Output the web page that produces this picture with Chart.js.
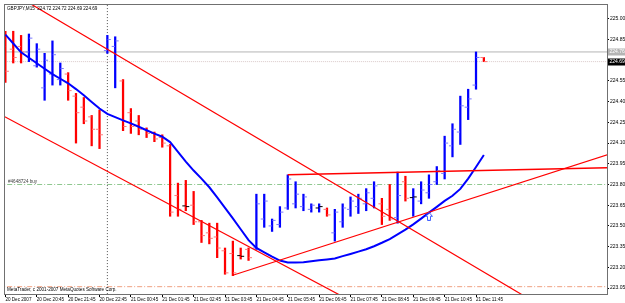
<!DOCTYPE html>
<html>
<head>
<meta charset="utf-8">
<script src="https://cdn.jsdelivr.net/npm/chart.js@4.4.1/dist/chart.umd.min.js"></script>
<style>
  html, body { margin: 0; padding: 0; background: #fff; }
</style>
</head>
<body>
<canvas id="chart" width="625" height="303"></canvas>
<script>
// GBPJPY M15, one entry per bar (bar 0 is the half-hidden one on the left edge)
const opens  = [224.80,224.78,224.80,224.76,224.66,224.50,224.60,224.56,224.60,224.44,
                224.36,224.29,224.20,224.77,224.80,224.55,224.32,224.26,224.20,224.17,
                224.14,224.08,223.72,223.645,223.65,223.53,223.45,223.42,223.32,223.30,
                223.285,223.33,223.34,223.55,223.50,223.51,223.63,223.66,223.64,223.62,
                223.63,223.62,223.45,223.53,223.62,223.64,223.66,223.70,223.66,223.62,
                223.56,223.82,223.705,223.68,223.74,223.82,223.88,224.08,224.18,224.36,
                224.52,224.72]
const highs  = [224.91,224.91,224.88,224.89,224.82,224.75,224.84,224.68,224.61,224.46,
                224.43,224.30,224.34,224.88,224.87,224.56,224.35,224.30,224.21,224.18,
                224.16,224.09,223.81,223.83,223.75,223.54,223.52,223.52,223.34,223.39,
                223.34,223.34,223.73,223.73,223.55,223.64,223.87,223.82,223.73,223.66,
                223.66,223.63,223.62,223.66,223.71,223.73,223.77,223.82,223.70,223.80,
                223.89,223.86,223.77,223.82,223.87,223.93,224.15,224.24,224.44,224.49,
                224.76,224.72]
const lows   = [224.54,224.68,224.68,224.69,224.65,224.41,224.52,224.52,224.41,224.10,
                224.24,224.08,224.06,224.75,224.50,224.19,224.17,224.16,224.14,224.11,
                224.07,223.57,223.57,223.61,223.51,223.38,223.37,223.27,223.15,223.14,
                223.26,223.25,223.33,223.49,223.46,223.49,223.62,223.63,223.61,223.60,
                223.60,223.57,223.39,223.49,223.57,223.59,223.61,223.63,223.51,223.54,
                223.52,223.68,223.57,223.66,223.70,223.80,223.84,224.00,224.09,224.27,
                224.49,224.69]
const closes = [224.62,224.72,224.76,224.86,224.78,224.70,224.74,224.64,224.48,224.32,
                224.26,224.20,224.16,224.85,224.84,224.22,224.22,224.20,224.17,224.13,
                224.10,223.60,223.62,223.64,223.53,223.43,223.41,223.34,223.16,223.16,
                223.28,223.27,223.66,223.68,223.54,223.60,223.84,223.73,223.71,223.65,
                223.64,223.58,223.60,223.63,223.68,223.70,223.74,223.79,223.57,223.55,
                223.72,223.70,223.71,223.76,223.80,223.90,224.10,224.20,224.37,224.42,
                224.72,224.69]
// moving average (blue curve)
const maValues = [224.886,224.821,224.757,224.718,224.678,224.638,224.600,224.566,224.533,224.491,
                  224.446,224.398,224.350,224.312,224.288,224.264,224.243,224.218,224.193,224.168,
                  224.146,224.107,224.036,223.966,223.901,223.843,223.780,223.707,223.631,223.555,
                  223.476,223.397,223.341,223.309,223.278,223.249,223.236,223.236,223.237,223.244,
                  223.251,223.257,223.264,223.281,223.297,223.314,223.331,223.353,223.378,223.405,
                  223.439,223.473,223.511,223.553,223.596,223.638,223.681,223.718,223.768,223.843,
                  223.927,224.014]

// time axis
const timeTickBars   = [0,4,8,12,16,20,24,28,32,36,40,44,48,52,56,60]
const timeTickLabels = ["20 Dec 2007","20 Dec 20:45","20 Dec 21:45","20 Dec 22:45",
                        "21 Dec 00:45","21 Dec 01:45","21 Dec 02:45","21 Dec 03:45",
                        "21 Dec 04:45","21 Dec 05:45","21 Dec 06:45","21 Dec 07:45",
                        "21 Dec 08:45","21 Dec 09:45","21 Dec 10:45","21 Dec 11:45"]
const daySeparatorBar = 13

// price axis
const priceTicks = [225.00,224.85,224.70,224.55,224.40,224.25,224.10,223.95,
                    223.80,223.65,223.50,223.35,223.20,223.05].filter(v => v !== 224.70)
const askPrice = 224.76
const bidPrice = 224.69
const orderPrice = 223.80
const stopPrice = 223.06
const orderLabel = "#4648724 buy"
const arrowBar = [54]
const arrowPrice = [223.57]

// trend lines, [bar, price] end points
const upperChannel = [[-1, 225.25], [78, 222.594]]
const lowerChannel = [[-1, 224.319], [78, 221.930]]
const risingLine   = [[29, 223.143], [78, 224.038]]
const flatLine     = [[36, 223.871], [78, 223.923]]

const titleText = "GBPJPY,M15  224.72 224.72 224.69 224.69"
const copyText  = "MetaTrader, c 2001-2007 MetaQuotes Software Corp."

const xMin = -0.05, xMax = 76.7
const yMin = 223.007, yMax = 225.10
const tickShift = 0.24
const font = "Liberation Sans"

const bars = opens.map((o, j) => j)
const barColors = bars.map(j => closes[j] > opens[j] ? "#0000ff" : "#ff0000")
const tickColors = bars.map(j => Math.abs(closes[j] - opens[j]) < 0.01 ? "#000000"
  : (closes[j] > opens[j] ? "#7878ff" : "#ff7878"))

const pts = arr => arr.map(p => ({ x: p[0], y: p[1] }))
const hline = price => [{ x: xMin - 1, y: price }, { x: xMax + 1, y: price }]

function buyArrow() {
  const c = document.createElement("canvas")
  c.width = 8; c.height = 9
  const g = c.getContext("2d")
  g.strokeStyle = "#4060ff"
  g.lineWidth = 1
  g.beginPath()
  g.moveTo(4, 0.5); g.lineTo(7.5, 4.5); g.lineTo(5.5, 4.5); g.lineTo(5.5, 8.5)
  g.lineTo(2.5, 8.5); g.lineTo(2.5, 4.5); g.lineTo(0.5, 4.5); g.closePath()
  g.stroke()
  return c
}

const lineSet = (data, color, width, dash, order) => ({
  type: "line", data, borderColor: color, borderWidth: width, borderDash: dash || [],
  pointRadius: 0, fill: false, order, clip: 0
})

const textPlugin = {
  id: "mtTexts",
  afterDraw(chart) {
    const { ctx, chartArea: a, scales: { y } } = chart
    ctx.save()
    // frame
    ctx.strokeStyle = "#707070"
    ctx.lineWidth = 1
    ctx.strokeRect(a.left - 0.5, a.top - 0.5, a.right - a.left + 1, a.bottom - a.top + 1)
    ctx.textBaseline = "middle"
    ctx.textAlign = "left"
    ctx.font = "4.6px '" + font + "'"
    ctx.fillStyle = "#000"
    ctx.fillText(titleText, a.left + 2, a.top + 4)
    ctx.fillText(copyText, a.left + 2, a.bottom - 4)
    ctx.fillStyle = "#404040"
    ctx.fillText(orderLabel, a.left + 3, y.getPixelForValue(orderPrice) - 3)
    // ask / bid boxes on the price axis
    ctx.font = "5px '" + font + "'"
    const boxes = [[askPrice, "#b4b4b4", "#ffffff"], [bidPrice, "#000000", "#ffffff"]]
    boxes.forEach(([p, bg, fg]) => {
      const py = Math.round(y.getPixelForValue(p))
      ctx.fillStyle = bg
      ctx.fillRect(a.right + 1, py - 3.5, 17, 7)
      ctx.fillStyle = fg
      ctx.fillText(p.toFixed(2), a.right + 2.5, py)
    })
    ctx.restore()
  }
}

new Chart(document.getElementById("chart"), {
  type: "bar",
  data: {
    datasets: [
      lineSet(hline(askPrice), "#b4b4b4", 1, [], 20),
      lineSet(hline(bidPrice), "#d8c8c8", 1, [1, 1], 20),
      lineSet(hline(orderPrice), "#90c890", 1, [5, 2, 1, 2], 20),
      lineSet(hline(stopPrice), "#f0a080", 1, [5, 2, 1, 2], 20),
      lineSet([{ x: daySeparatorBar, y: yMin - 1 }, { x: daySeparatorBar, y: yMax + 1 }],
        "#505050", 1, [1, 2], 20),
      {
        type: "bar",
        data: bars.map(j => ({ x: j, y: [lows[j], highs[j]] })),
        backgroundColor: barColors,
        barThickness: 1.6,
        order: 10
      },
      {
        type: "line", showLine: false, order: 9,
        data: bars.map(j => ({ x: j - tickShift, y: opens[j] })),
        pointStyle: "line", pointRadius: 1.6, pointBorderWidth: 1,
        pointBorderColor: tickColors, pointBackgroundColor: tickColors
      },
      {
        type: "line", showLine: false, order: 9,
        data: bars.map(j => ({ x: j + tickShift, y: closes[j] })),
        pointStyle: "line", pointRadius: 1.6, pointBorderWidth: 1,
        pointBorderColor: tickColors, pointBackgroundColor: tickColors
      },
      lineSet(bars.map(j => ({ x: j, y: maValues[j] })), "#0000ff", 2, [], 3),
      lineSet(pts(upperChannel), "#ff0000", 1.2, [], 2),
      lineSet(pts(lowerChannel), "#ff0000", 1.2, [], 2),
      lineSet(pts(risingLine), "#ff0000", 1.2, [], 2),
      lineSet(pts(flatLine), "#ff0000", 1.4, [], 2),
      {
        type: "line", showLine: false, order: 1,
        data: arrowBar.map((b, i) => ({ x: b, y: arrowPrice[i] })),
        pointStyle: buyArrow(), pointRadius: 4
      }
    ]
  },
  options: {
    responsive: false,
    devicePixelRatio: 1,
    animation: false,
    layout: { padding: { left: 1, top: 1, right: 0, bottom: 0 } },
    plugins: { legend: { display: false }, tooltip: { enabled: false } },
    scales: {
      x: {
        type: "linear", min: xMin, max: xMax, offset: false,
        afterBuildTicks(s) { s.ticks = timeTickBars.map(v => ({ value: v })) },
        afterFit(s) { s.height = 9 },
        ticks: {
          autoSkip: false, maxRotation: 0, align: "start", padding: 0,
          color: "#000", font: { family: font, size: 4.6 },
          callback: (v, i) => timeTickLabels[i]
        },
        grid: { drawOnChartArea: false, tickLength: 3, color: "#000", offset: false },
        border: { display: false }
      },
      y: {
        type: "linear", position: "right", min: yMin, max: yMax,
        afterBuildTicks(s) { s.ticks = priceTicks.map(v => ({ value: v })) },
        afterFit(s) { s.width = 18 },
        ticks: {
          autoSkip: false, padding: 1, color: "#000",
          font: { family: font, size: 5 },
          callback: v => v.toFixed(2)
        },
        grid: { drawOnChartArea: false, tickLength: 2, color: "#000" },
        border: { display: false }
      }
    }
  },
  plugins: [textPlugin]
})
</script>
</body>
</html>
